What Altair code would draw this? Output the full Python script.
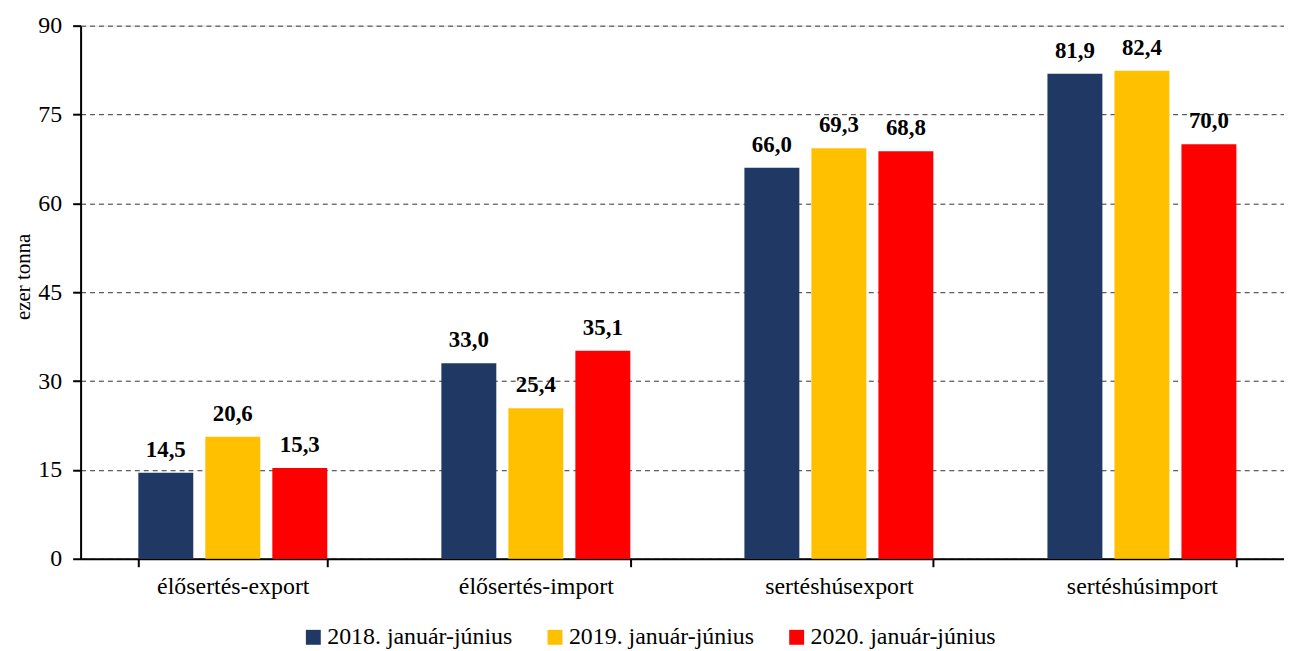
import altair as alt
import pandas as pd

categories = ["élősertés-export", "élősertés-import", "sertéshúsexport", "sertéshúsimport"]
series = ["2018. január-június", "2019. január-június", "2020. január-június"]
v2018 = [14.5, 33.0, 66.0, 81.9]
v2019 = [20.6, 25.4, 69.3, 82.4]
v2020 = [15.3, 35.1, 68.8, 70.0]
colors = ["#203864", "#FFC000", "#FF0000"]
y_ticks = [0, 15, 30, 45, 60, 75, 90]

rows = []
for s, vals in zip(series, [v2018, v2019, v2020]):
    for c, v in zip(categories, vals):
        rows.append({"cat": c, "series": s, "value": v})
df = pd.DataFrame(rows)

FONT = "Liberation Serif"

base = alt.Chart(df).encode(
    x=alt.X("cat:N", sort=categories,
            scale=alt.Scale(paddingInner=0.3765, paddingOuter=0.1738, align=0.548),
            axis=alt.Axis(title=None, labelFont=FONT, labelFontSize=24, labelColor="#000",
                          domainColor="#000", domainWidth=2, tickColor="#000", tickWidth=2,
                          tickSize=8, tickBand="extent", labelPadding=8, labelAngle=0)),
    xOffset=alt.XOffset("series:N", sort=series,
                        scale=alt.Scale(paddingInner=0.18, paddingOuter=0)),
    y=alt.Y("value:Q", scale=alt.Scale(domain=[0, 90], nice=False),
            axis=alt.Axis(values=y_ticks, title="ezer tonna", titleFont=FONT, titleFontSize=21,
                          titleFontWeight="normal", titleColor="#000", titleX=-57, titleY=252,
                          titleAngle=-90, titleBaseline="middle",
                          labelFont=FONT, labelFontSize=24, labelColor="#000", labelPadding=11,
                          domainColor="#000", domainWidth=2, tickColor="#000", tickWidth=2,
                          tickSize=8, grid=True, gridColor="#333", gridDash=[5, 4], gridWidth=1)),
)

bars = base.mark_bar().encode(
    color=alt.Color("series:N", sort=series,
                    scale=alt.Scale(domain=series, range=colors),
                    legend=alt.Legend(title=None, orient="none", legendX=222, legendY=603,
                                      direction="horizontal", columns=3, columnPadding=30,
                                      symbolType="square", symbolSize=225, symbolStrokeWidth=0,
                                      labelFont=FONT, labelFontSize=24, labelColor="#000",
                                      labelOffset=2, labelLimit=400)),
)

labels = base.mark_text(font=FONT, fontSize=23, fontWeight="bold", color="#000",
                        baseline="alphabetic", dy=-16).transform_calculate(
    label="replace(format(datum.value, '.1f'), '.', ',')"
).encode(text="label:N")

chart = (bars + labels).properties(
    width=1210, height=536,
    autosize=alt.AutoSizeParams(type="none"),
    padding={"left": 73, "top": 16, "right": 0, "bottom": 92},
).configure_view(stroke=None).configure(background="white")

chart.save("out.html", embed_options={"renderer": "svg", "actions": False})
